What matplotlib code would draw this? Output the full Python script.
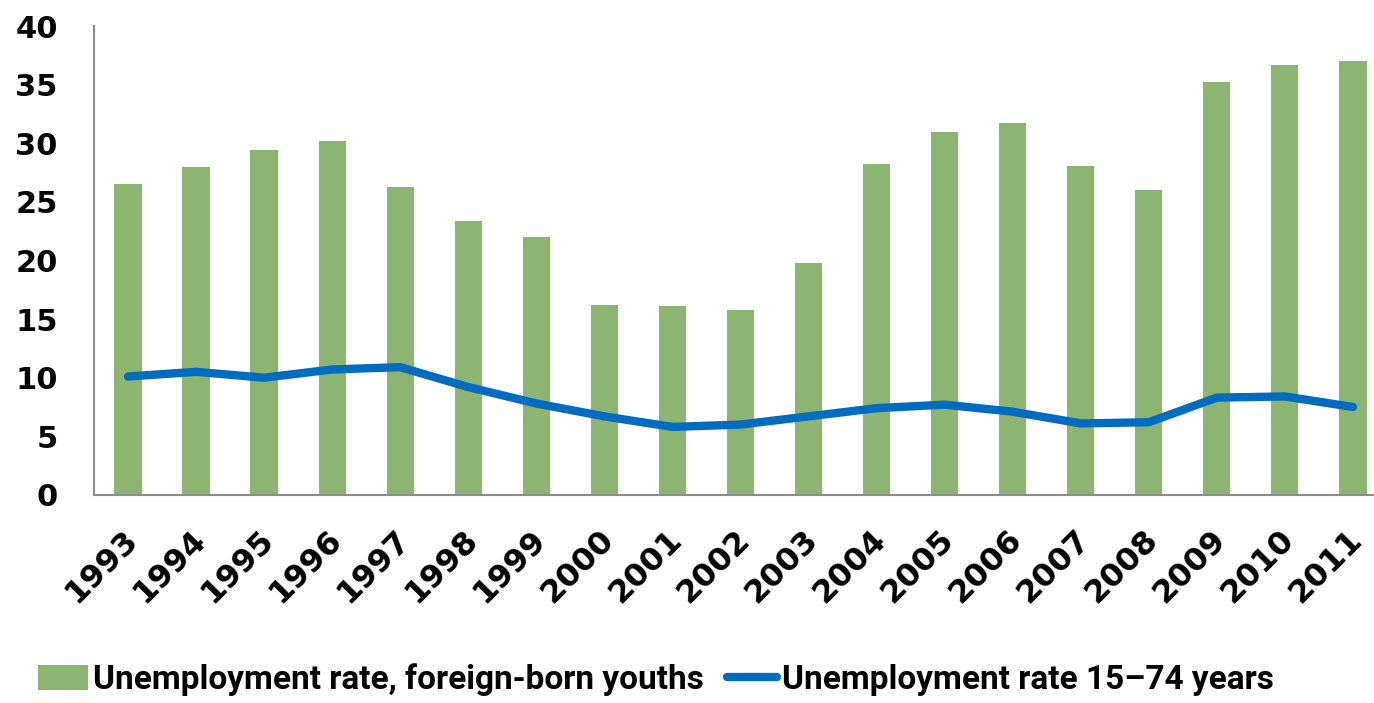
import numpy as np
import matplotlib.pyplot as plt
import matplotlib.transforms as mtransforms

years = ['1993', '1994', '1995', '1996', '1997', '1998', '1999', '2000', '2001', '2002',
         '2003', '2004', '2005', '2006', '2007', '2008', '2009', '2010', '2011']
foreign_youths = [26.5, 28.0, 29.4, 30.2, 26.3, 23.4, 22.0, 16.2, 16.1, 15.8,
                  19.8, 28.2, 31.0, 31.7, 28.1, 26.0, 35.2, 36.7, 37.0]
total_15_74 = [10.1, 10.5, 10.0, 10.7, 10.9, 9.2, 7.8, 6.7, 5.8, 6.0,
               6.7, 7.4, 7.7, 7.1, 6.1, 6.2, 8.3, 8.4, 7.5]
yticks = [0, 5, 10, 15, 20, 25, 30, 35, 40]

fig = plt.figure(figsize=(13.74, 7.03), dpi=100)
ax = fig.add_axes([0.0684, 0.296, 0.941, 0.667])

x = np.arange(len(years))
bars = ax.bar(x, foreign_youths, width=0.4, color='#8DB572')
line, = ax.plot(x, total_15_74, color='#006CBF', linewidth=6, solid_capstyle='round',
                solid_joinstyle='round')

ax.set_xlim(-0.5, 18.5)
ax.set_ylim(0, 40)
ax.set_yticks(yticks)
ax.set_yticklabels([str(v) for v in yticks], fontsize=22, fontweight='bold',
                   family='DejaVu Sans')
ax.set_xticks(x)
ax.set_xticklabels(years, rotation=45, ha='right', va='top', rotation_mode='anchor',
                   fontsize=23, fontweight='bold', family='DejaVu Sans')
ax.tick_params(axis='both', length=0)
ax.tick_params(axis='y', pad=26)
ax.tick_params(axis='x', pad=21)

# slanted year labels sit slightly left of the bar centres
shift = mtransforms.ScaledTranslation(-6 / 100, 0, fig.dpi_scale_trans)
for lab in ax.get_xticklabels():
    lab.set_transform(lab.get_transform() + shift)

for s in ['top', 'right']:
    ax.spines[s].set_visible(False)
for s in ['left', 'bottom']:
    ax.spines[s].set_color('#8C8C8C')
    ax.spines[s].set_linewidth(1.5)

fig.legend([bars, line],
           ['Unemployment rate, foreign-born youths', 'Unemployment rate 15–74 years'],
           loc='lower left', bbox_to_anchor=(0.006, -0.033), ncol=2, frameon=False,
           prop={'family': 'Roboto', 'weight': 'bold', 'size': 24},
           handlelength=1.5, handleheight=0.8, handletextpad=0.15, columnspacing=0.7)

fig.savefig('out.png', dpi=100)
